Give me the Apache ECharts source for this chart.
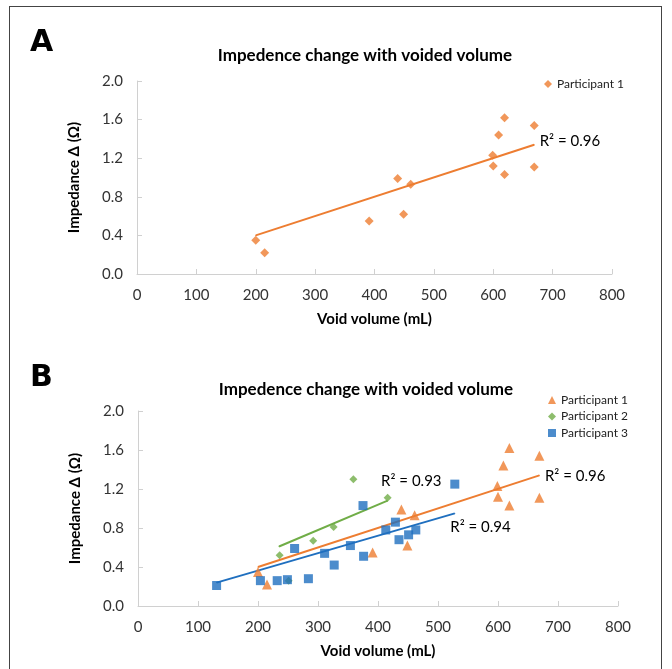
<!DOCTYPE html>
<html>
<head>
<meta charset="utf-8">
<script src="https://cdn.jsdelivr.net/npm/echarts@6/dist/echarts.min.js"></script>
<style>
html,body{margin:0;padding:0;background:#fff;}
#frame{position:absolute;left:9px;top:6px;width:653px;height:700px;border:1.5px solid #444;box-sizing:border-box;}
#chartA{position:absolute;left:0;top:0;width:672px;height:335px;}
#chartB{position:absolute;left:0;top:335px;width:672px;height:334px;}
</style>
</head>
<body>
<div id="frame"></div>
<div id="chartA"></div>
<div id="chartB"></div>
<script>
// ---- data ----
const panelTitle = 'Impedence change with voided volume';
const xName = 'Void volume (mL)';
const yName = 'Impedance \u0394 (\u03A9)';
const seriesNames = ['Participant 1', 'Participant 2', 'Participant 3'];
const xMin = 0, xMax = 800, xStep = 100;
const yMin = 0, yMax = 2.0, yStep = 0.4;

const p1X = [200, 215, 391, 439, 449, 461, 599, 600, 609, 619, 619, 669, 669];
const p1Y = [0.35, 0.22, 0.55, 0.99, 0.62, 0.93, 1.23, 1.12, 1.44, 1.62, 1.03, 1.54, 1.11];

const p2X = [236, 251, 292, 326, 359, 416];
const p2Y = [0.52, 0.26, 0.67, 0.81, 1.30, 1.11];

const p3X = [131, 204, 232, 249, 261, 284, 311, 327, 354, 375, 376, 413, 429, 435, 451, 463, 528];
const p3Y = [0.21, 0.26, 0.26, 0.27, 0.59, 0.28, 0.54, 0.42, 0.62, 1.03, 0.51, 0.78, 0.86, 0.68, 0.73, 0.78, 1.25];

// trend line end points
const trend1X = [200, 669];
const trend1Y = [0.40, 1.34];
const trend2X = [235, 416];
const trend2Y = [0.61, 1.08];
const trend3X = [131, 528];
const trend3Y = [0.24, 0.95];

const r2Labels = ['R\u00B2 = 0.96', 'R\u00B2 = 0.93', 'R\u00B2 = 0.94'];

// ---- styles ----
const ORANGE = '#ED7D31', GREEN = '#70AD47', BLUE = '#1F6FBF';
const FONT = 'Lato';
const zip = (a, b) => a.map((v, i) => [v, b[i]]);

function axes() {
  return {
    xAxis: {
      type: 'value', min: xMin, max: xMax, interval: xStep,
      name: xName, nameLocation: 'middle', nameGap: 38,
      nameTextStyle: {fontFamily: FONT, fontWeight: 'bold', fontSize: 15, color: '#000'},
      axisLine: {show: true, lineStyle: {color: '#d0d0d0', width: 1}},
      axisTick: {show: true, inside: true, length: 5, lineStyle: {color: '#d0d0d0'}},
      axisLabel: {fontFamily: FONT, fontSize: 15, color: '#333', margin: 14},
      splitLine: {show: false}
    },
    yAxis: {
      type: 'value', min: yMin, max: yMax, interval: yStep,
      name: yName, nameLocation: 'middle', nameGap: 55, nameRotate: 90,
      nameTextStyle: {fontFamily: FONT, fontWeight: 'bold', fontSize: 15, color: '#000'},
      axisLine: {show: true, lineStyle: {color: '#d0d0d0', width: 1}},
      axisTick: {show: true, inside: true, length: 5, lineStyle: {color: '#d0d0d0'}},
      axisLabel: {fontFamily: FONT, fontSize: 15, color: '#333', margin: 14,
        formatter: v => v.toFixed(1)},
      splitLine: {show: false}
    }
  };
}

function trendSeries(xs, ys, color, label, offset) {
  const data = zip(xs, ys).map((p, i) => i === xs.length - 1 ? {
    value: p,
    label: {show: true, position: 'right', distance: 5, offset: offset, formatter: label,
      fontFamily: FONT, fontSize: 15, color: '#000'}
  } : {value: p});
  return {
    type: 'line', data: data, symbol: 'circle', symbolSize: 1, showSymbol: true, silent: true,
    itemStyle: {color: color}, lineStyle: {color: color, width: 2}, z: 1
  };
}

function letter(txt) {
  return {type: 'text', left: 30, top: 28,
    style: {text: txt, font: 'bold 30px "DejaVu Sans"', fill: '#000'}};
}

// ---- Panel A ----
const chartA = echarts.init(document.getElementById('chartA'), null, {renderer: 'canvas'});
const a = axes();
chartA.setOption({
  animation: false,
  grid: {left: 137, right: 60, top: 81, height: 193},
  title: {text: panelTitle, left: 360, textAlign: 'center', top: 42,
    textStyle: {fontFamily: FONT, fontWeight: 'bold', fontSize: 17, color: '#000'}},
  legend: {data: [seriesNames[0]], left: 539, top: 73, orient: 'vertical',
    itemWidth: 8, itemHeight: 8, itemGap: 4.5,
    textStyle: {fontFamily: FONT, fontSize: 12, color: '#222'}},
  graphic: [letter('A')],
  xAxis: a.xAxis, yAxis: a.yAxis,
  series: [
    trendSeries(trend1X, trend1Y, ORANGE, r2Labels[0], [0, -4]),
    {name: seriesNames[0], type: 'scatter', symbol: 'diamond', symbolSize: 9,
      itemStyle: {color: ORANGE}, data: zip(p1X, p1Y), z: 3}
  ]
});

// ---- Panel B ----
const chartB = echarts.init(document.getElementById('chartB'), null, {renderer: 'canvas'});
const b = axes();
chartB.setOption({
  animation: false,
  grid: {left: 138, right: 54, top: 76, height: 195},
  title: {text: panelTitle, left: 361, textAlign: 'center', top: 41,
    textStyle: {fontFamily: FONT, fontWeight: 'bold', fontSize: 17, color: '#000'}},
  legend: {data: seriesNames, left: 543, top: 54, orient: 'vertical',
    itemWidth: 8, itemHeight: 8, itemGap: 4.5,
    textStyle: {fontFamily: FONT, fontSize: 12, color: '#222'}},
  graphic: [letter('B')],
  xAxis: b.xAxis, yAxis: b.yAxis,
  series: [
    trendSeries(trend1X, trend1Y, ORANGE, r2Labels[0], [0, 1]),
    trendSeries(trend2X, trend2Y, GREEN, r2Labels[1], [-12, -20]),
    trendSeries(trend3X, trend3Y, BLUE, r2Labels[2], [-10, 14]),
    {name: seriesNames[0], type: 'scatter', symbol: 'triangle', symbolSize: 10,
      itemStyle: {color: ORANGE}, data: zip(p1X, p1Y), z: 3},
    {name: seriesNames[1], type: 'scatter', symbol: 'diamond', symbolSize: 8,
      itemStyle: {color: GREEN}, data: zip(p2X, p2Y), z: 3},
    {name: seriesNames[2], type: 'scatter', symbol: 'rect', symbolSize: 9,
      itemStyle: {color: BLUE}, data: zip(p3X, p3Y), z: 3}
  ]
});
</script>
</body>
</html>
